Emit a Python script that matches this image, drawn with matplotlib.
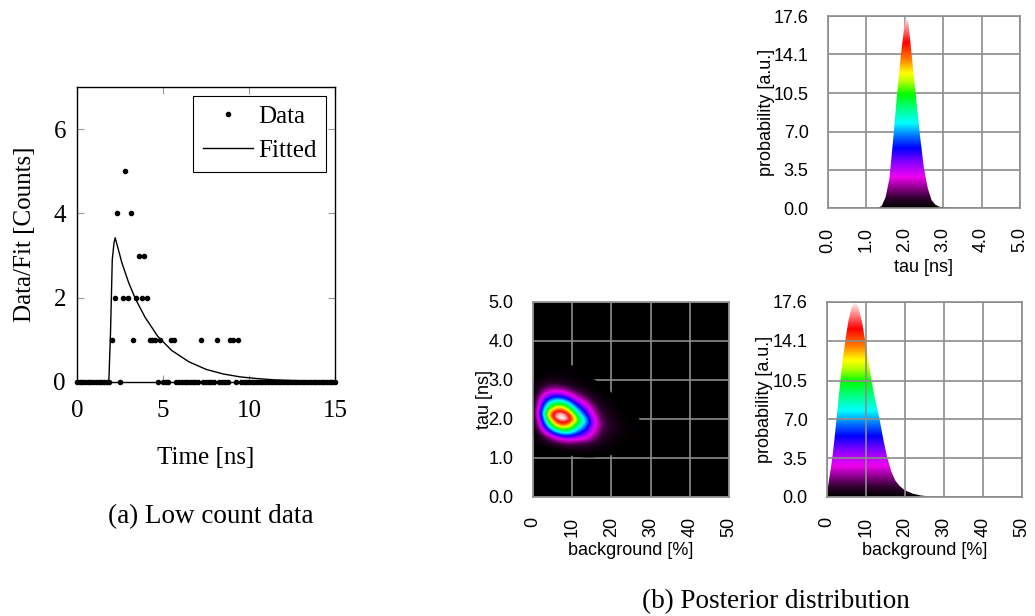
import numpy as np
import matplotlib.pyplot as plt
from matplotlib.colors import LinearSegmentedColormap
from matplotlib.patches import Polygon

# ---- (a) low count decay histogram ----
bin_times = np.linspace(0, 15, 97)
counts = [0, 0, 0, 0, 0, 0, 0, 0, 0, 0, 0, 0, 0,
          1, 2, 4, 0, 2, 5, 2, 4, 1, 2, 3, 2, 3, 2, 1, 1, 1, 0, 1, 0, 0, 0, 1, 1,
          0, 0, 0, 0, 0, 0, 0, 0, 0, 1, 0, 0, 0, 0, 0, 1, 0, 0, 0, 0, 1, 1, 0, 1,
          0, 0, 0, 0, 0, 0, 0, 0, 0, 0, 0, 0, 0, 0, 0, 0, 0, 0,
          0, 0, 0, 0, 0, 0, 0, 0, 0, 0, 0, 0, 0, 0, 0, 0, 0, 0]

fit_times = [0.0, 1.85, 1.95, 2.05, 2.15, 2.22, 2.4, 2.6, 3.0, 3.4, 3.95, 4.7,
             5.5, 6.5, 7.5, 8.5, 9.5, 10.5, 11.5, 12.5, 13.5, 15.0]
fit_counts = [0.0, 0.0, 1.2, 2.9, 3.3, 3.42, 3.15, 2.84, 2.36, 1.97, 1.54, 1.08,
              0.75, 0.48, 0.30, 0.19, 0.12, 0.08, 0.05, 0.035, 0.025, 0.015]

# ---- (b) posterior marginals ----
tau_values = [1.20, 1.30, 1.40, 1.50, 1.60, 1.70, 1.80, 1.90, 2.00, 2.03, 2.10,
              2.20, 2.30, 2.40, 2.50, 2.60, 2.70, 2.80, 2.90, 3.00, 3.10,
              3.20, 3.30, 3.40, 3.50]
tau_prob = [0.0, 0.01, 0.2, 1.0, 2.7, 6.4, 10.5, 14.1, 17.0, 17.6, 16.8,
            13.3, 9.9, 6.5, 3.6, 1.8, 0.7, 0.3, 0.12, 0.06, 0.03,
            0.015, 0.007, 0.003, 0.0]

bg_values = [0.0, 0.5, 1.0, 1.5, 2.0, 2.5, 3.0, 3.5, 4.0, 4.7, 5.5, 6.3, 7.1,
             8.0, 9.0, 9.8, 10.6, 11.4, 12.4, 13.5, 14.5, 15.5, 16.5, 17.5,
             18.6, 20.0, 22.0, 24.0, 26.0, 28.0, 30.0, 31.0]
bg_prob = [0.2, 1.5, 2.6, 3.9, 5.5, 7.2, 9.0, 10.7, 12.3, 14.1, 15.9, 17.1, 17.6,
           17.2, 15.8, 14.1, 12.3, 10.5, 8.7, 7.0, 5.1, 3.5, 2.3, 1.5,
           1.0, 0.6, 0.3, 0.14, 0.06, 0.025, 0.008, 0.0]

# joint map: tau drifts down as background grows, and is a bit broader
bg_peak = 7.1
tau_peak = 2.03
tau_shift_per_bg = -0.018
joint_tau_width = 1.3

prob_ticks = [0.0, 3.5, 7.0, 10.5, 14.1, 17.6]
prob_max = 17.6

rainbow = LinearSegmentedColormap.from_list("posterior", [
    (0.00, "#000000"), (0.05, "#300030"), (0.16, "#f000f0"), (0.24, "#8000ff"),
    (0.31, "#0000ff"), (0.38, "#0080ff"), (0.44, "#00ffff"), (0.52, "#00ff80"),
    (0.59, "#00ff00"), (0.66, "#c0ff00"), (0.70, "#ffff00"), (0.77, "#ff8000"),
    (0.86, "#ff0000"), (0.93, "#ff8080"), (1.00, "#ffffff")])

SERIF = "Liberation Serif"
SANS = "Liberation Sans"
GRID = "#8c8c8c"

plt.rcParams["font.family"] = SERIF

fig = plt.figure(figsize=(10.35, 6.16), dpi=100)

# ---- left panel ----
ax = fig.add_axes([0.0744, 0.3799, 0.2493, 0.4789])
ax.plot(fit_times, fit_counts, color="black", lw=1.0, label="Fitted", zorder=2)
ax.plot(bin_times, counts, "o", color="black", ms=3.0, label="Data",
        clip_on=False, zorder=3)
ax.set_xlim(0, 15)
ax.set_ylim(0, 7)
ax.set_xticks([0, 5, 10, 15])
ax.set_yticks([0, 2, 4, 6])
ax.tick_params(direction="in", top=True, right=True, length=5, width=0.8,
               color="#999999", labelsize=18)
ax.tick_params(axis="x", pad=13)
ax.tick_params(axis="y", pad=8)
for s in ax.spines.values():
    s.set_linewidth(1.0)
ax.set_xlabel("Time [ns]", fontsize=18)
ax.xaxis.set_label_coords(0.5, -0.258)
ax.xaxis.label.set_va("center")
ax.set_ylabel("Data/Fit [Counts]", fontsize=18)
ax.yaxis.set_label_coords(-0.2016, 0.5)
ax.yaxis.label.set_va("center")
handles, labels = ax.get_legend_handles_labels()
leg = ax.legend(handles[::-1], labels[::-1], loc="upper right", fontsize=18,
                fancybox=False, edgecolor="black", framealpha=1,
                handlelength=2.0, handletextpad=0.2, borderpad=0.4,
                labelspacing=0.45, borderaxespad=0.35)
leg.get_frame().set_linewidth(0.8)

fig.text(0.204, 0.161, "(a) Low count data", ha="center", va="center",
         fontsize=19.5)


def style_panel(ax, xticks, xlabels, xlabel, ylabel, ylabel_x, xlabel_y,
                yticks, ylabels):
    ax.set_xticks(xticks)
    ax.set_xticklabels(xlabels, rotation=90)
    ax.set_yticks(yticks)
    ax.set_yticklabels(ylabels)
    ax.tick_params(length=0, pad=14, labelsize=13, labelfontfamily=SANS)
    ax.grid(True, color=GRID, lw=1.2)
    for s in ax.spines.values():
        s.set_color(GRID)
        s.set_linewidth(1.2)
    ax.set_xlabel(xlabel, fontsize=13, fontfamily=SANS)
    ax.xaxis.set_label_coords(0.5, xlabel_y)
    ax.xaxis.label.set_va("center")
    ax.set_ylabel(ylabel, fontsize=13, fontfamily=SANS)
    ax.yaxis.set_label_coords(ylabel_x, 0.5)
    ax.yaxis.label.set_va("center")


def gradient_fill(ax, x, y, xlim):
    x = np.asarray(x)
    y = np.asarray(y)
    verts = np.column_stack([np.r_[x[0], x, x[-1]], np.r_[0, y, 0]])
    clip = Polygon(verts, closed=True, facecolor="none", edgecolor="none")
    ax.add_patch(clip)
    grad = np.linspace(0, 1, 512).reshape(-1, 1)
    im = ax.imshow(grad, cmap=rainbow, extent=[x.min(), x.max(), 0, prob_max],
                   origin="lower", aspect="auto", zorder=1,
                   interpolation="bilinear")
    im.set_clip_path(clip)
    ax.set_xlim(*xlim)
    ax.set_ylim(0, prob_max)


# ---- tau marginal ----
ax_tau = fig.add_axes([0.800, 0.6623, 0.1855, 0.3117])
ax_tau.set_axisbelow(True)
gradient_fill(ax_tau, tau_values, tau_prob, (0, 5))
style_panel(ax_tau, [0, 1, 2, 3, 4, 5],
            ["0.0", "1.0", "2.0", "3.0", "4.0", "5.0"],
            "tau [ns]", "probability [a.u.]", -0.318, -0.31,
            prob_ticks, [f"{v:.1f}" for v in prob_ticks])

# ---- background marginal ----
ax_bg = fig.add_axes([0.799, 0.1932, 0.1884, 0.3166])
ax_bg.set_axisbelow(False)
gradient_fill(ax_bg, bg_values, bg_prob, (0, 50))
style_panel(ax_bg, [0, 10, 20, 30, 40, 50],
            ["0", "10", "20", "30", "40", "50"],
            "background [%]", "probability [a.u.]", -0.32, -0.272,
            prob_ticks, [f"{v:.1f}" for v in prob_ticks])

# ---- joint posterior ----
ax_2d = fig.add_axes([0.515, 0.1932, 0.1894, 0.3166])
ax_2d.set_facecolor("black")
ax_2d.set_axisbelow(True)
bg_grid = np.linspace(0, 50, 500)
tau_grid = np.linspace(0, 5, 500)
B, T = np.meshgrid(bg_grid, tau_grid)
tau_center = tau_peak + tau_shift_per_bg * (B - bg_peak)
p_bg = np.interp(B, bg_values, bg_prob, left=0, right=0)
p_tau = np.interp(tau_peak + (T - tau_center) / joint_tau_width,
                  tau_values, tau_prob, left=0, right=0)
joint = p_bg * p_tau
joint = joint / joint.max()
rgba = rainbow(joint)
rgba[..., 3] = (joint > 1.5e-3).astype(float)
ax_2d.imshow(rgba, extent=[0, 50, 0, 5], origin="lower", aspect="auto",
             zorder=1, interpolation="bilinear")
ax_2d.set_xlim(0, 50)
ax_2d.set_ylim(0, 5)
style_panel(ax_2d, [0, 10, 20, 30, 40, 50],
            ["0", "10", "20", "30", "40", "50"],
            "background [%]", "tau [ns]", -0.25, -0.272,
            [0, 1, 2, 3, 4, 5], ["0.0", "1.0", "2.0", "3.0", "4.0", "5.0"])

fig.text(0.750, 0.0227, "(b) Posterior distribution", ha="center",
         va="center", fontsize=19.5)

fig.savefig("out.png", dpi=100)
